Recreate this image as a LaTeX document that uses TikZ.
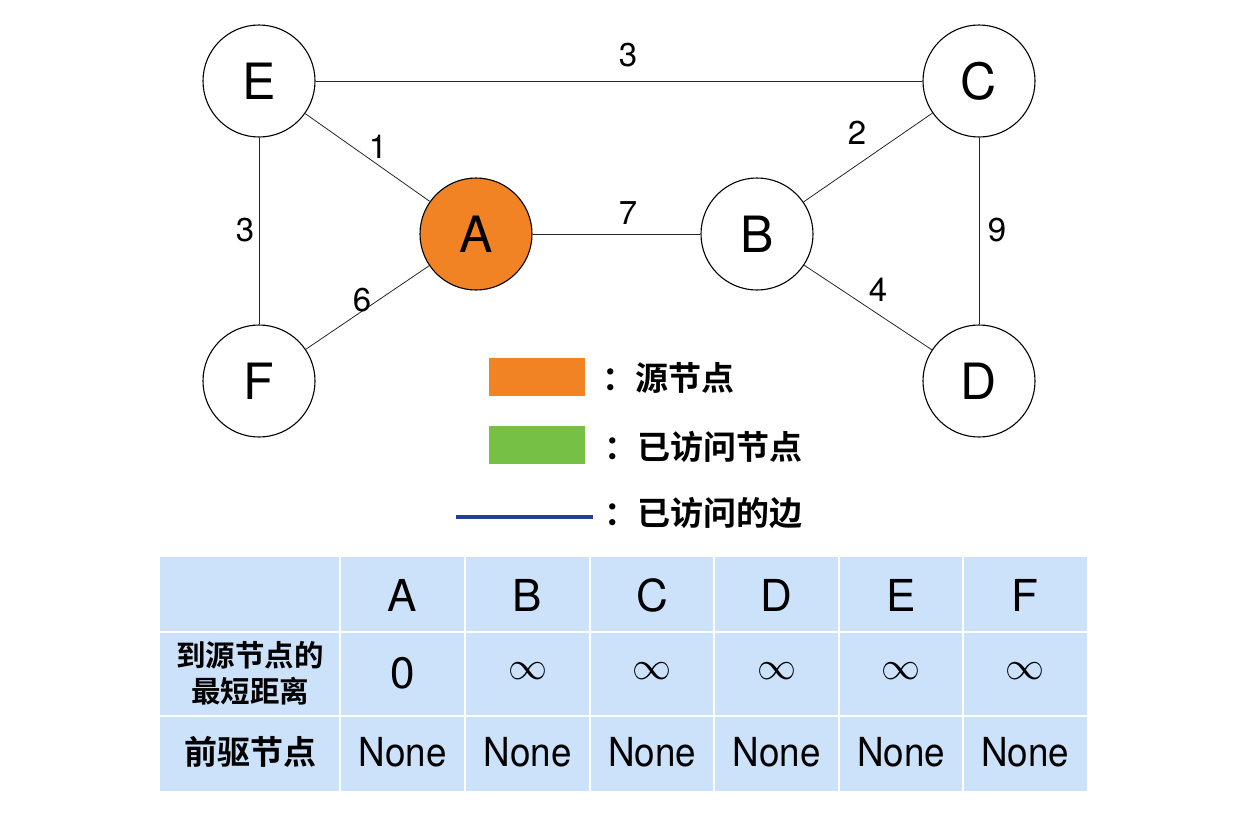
\documentclass[tikz,border=0pt]{standalone}
\usepackage{fontspec}
\setmainfont{TeX Gyre Heros}
\newfontfamily\cjk{Noto Sans CJK SC}[BoldFont={Noto Sans CJK SC Bold}]
\definecolor{srcorange}{RGB}{242,131,36}
\definecolor{visgreen}{RGB}{118,192,67}
\definecolor{visblue}{RGB}{40,62,150}
\definecolor{tabblue}{RGB}{204,226,250}
\begin{document}
\begin{tikzpicture}[x=1pt,y=-1pt,
  vert/.style={circle,draw=black,line width=1.1pt,minimum size=112pt,inner sep=0pt,fill=white,
    font=\fontsize{50}{50}\selectfont},
  edge/.style={line width=0.8pt,black!85},
  wlbl/.style={font=\fontsize{33}{33}\selectfont,inner sep=0pt},
  legtxt/.style={anchor=west,font=\cjk\bfseries\fontsize{33}{33}\selectfont,inner sep=0pt},
  hdr/.style={font=\fontsize{44}{44}\selectfont,inner sep=0pt},
  cell/.style={font=\fontsize{40}{40}\selectfont,inner sep=0pt},
  infcell/.style={font=\normalsize,inner sep=0pt},
  cjkcell/.style={font=\cjk\bfseries\fontsize{29.5}{36}\selectfont,align=center,inner sep=0pt}]
\useasboundingbox (0,0) rectangle (1237,822);
% vertices
\node[vert] (E) at (259,81) {E};
\node[vert] (C) at (979,81) {C};
\node[vert,fill=srcorange] (A) at (476,234) {A};
\node[vert] (B) at (757,234) {B};
\node[vert] (F) at (259,381) {F};
\node[vert] (D) at (979,381) {D};
% edges
\draw[edge] (E) -- (C);
\draw[edge] (E) -- (A);
\draw[edge] (E) -- (F);
\draw[edge] (F) -- (A);
\draw[edge] (A) -- (B);
\draw[edge] (B) -- (C);
\draw[edge] (B) -- (D);
\draw[edge] (C) -- (D);
% weights
\node[wlbl] (wEC) at (628,55) {3};
\node[wlbl] (wEA) at (378,147) {1};
\node[wlbl] (wBC) at (857,133) {2};
\node[wlbl] (wAB) at (628,213) {7};
\node[wlbl] (wEF) at (245,230) {3};
\node[wlbl] (wCD) at (997,230) {9};
\node[wlbl] (wFA) at (362,300) {6};
\node[wlbl] (wBD) at (878,290) {4};
% legend
\fill[srcorange] (489,358) rectangle (585,396);
\fill[visgreen] (489,426) rectangle (585,464);
\coordinate (lb1) at (456,517);
\coordinate (lb2) at (593,517);
\draw[visblue,line width=3.5pt] (lb1) -- (lb2);
\node[legtxt] (l1) at (602,378) {：源节点};
\node[legtxt] (l2) at (604,447) {：已访问节点};
\node[legtxt] (l3) at (604,513) {：已访问的边};
% table
\fill[tabblue] (160,557) rectangle (1087,791);
\foreach \xx in {340,465,590,714,839,963}
  \draw[white,line width=1.2pt] (\xx,557) -- (\xx,791);
\foreach \yy in {632,716}
  \draw[white,line width=1.2pt] (160,\yy) -- (1087,\yy);
\node[cjkcell] (r1) at (250,673) {到源节点的\\最短距离};
\node[cjkcell,font=\cjk\bfseries\fontsize{33}{33}\selectfont] (r2) at (250,752) {前驱节点};
\foreach \cx/\lab [count=\i] in {402.5/A,527.5/B,652/C,776.5/D,901/E,1025/F}{
  \node[hdr] (h\i) at (\cx,595) {\lab};
  \node[cell] (n\i) at (\cx,752) {\scalebox{0.92}[1]{None}};
}
\node[hdr] (d1) at (402.5,673) {0};
\foreach \cx [count=\i from 2] in {527.5,652,776.5,901,1025}
  \node[infcell] (d\i) at (\cx,671) {\scalebox{3.9}{$\infty$}};
\end{tikzpicture}
\end{document}
